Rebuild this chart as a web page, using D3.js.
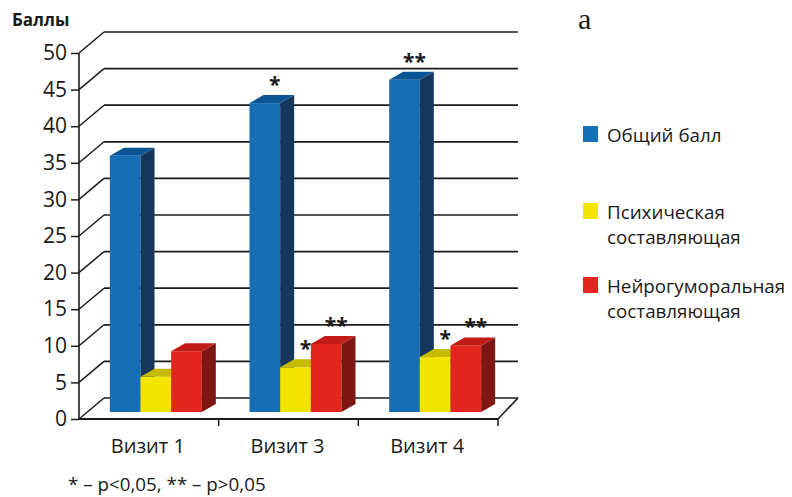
<!DOCTYPE html>
<html>
<head>
<meta charset="utf-8">
<script src="https://cdn.jsdelivr.net/npm/d3@7/dist/d3.min.js"></script>
<style>
  html, body { margin: 0; padding: 0; background: #fff; }
  svg { display: block; }
  text { font-family: "Open Sans", "Noto Sans", sans-serif; fill: #1a1a1a; }
</style>
</head>
<body>
<svg id="chart" width="792" height="497"></svg>
<script>
// Visits and score components
const visits = ["Визит 1", "Визит 3", "Визит 4"];
const seriesNames = ["Общий балл", "Психическая составляющая", "Нейрогуморальная составляющая"];
const legendLines = [["Общий балл"], ["Психическая", "составляющая"], ["Нейрогуморальная", "составляющая"]];
const totalScore = [35, 42.2, 45.4];
const psychicScore = [4.8, 6.1, 7.5];
const neuroScore = [8.3, 9.3, 9.1];
const totalSig = ["", "*", "**"];
const psychicSig = ["", "*", "*"];
const neuroSig = ["", "**", "**"];
const yTicks = [0, 5, 10, 15, 20, 25, 30, 35, 40, 45, 50];
const footnote = "* – p<0,05, ** – p>0,05";

const seriesValues = [totalScore, psychicScore, neuroScore];
const seriesSig = [totalSig, psychicSig, neuroSig];
const palette = [
  { front: "#166fb5", side: "#15375c", top: "#0b5595" },
  { front: "#f2e600", side: "#a89d00", top: "#c6bb00" },
  { front: "#e32520", side: "#7e1611", top: "#c11b18" }
];

const svg = d3.select("#chart");

// Front plane of the 3D box and the depth offsets of the back wall
const frontLeft = 79, frontRight = 498;
const backLeft = 104, backRight = 518;
const depthY = -21;

const y = d3.scaleLinear().domain([0, 50]).range([419, 53]);
const x0 = d3.scaleBand().domain(visits).range([frontLeft, frontRight]);

// Bars stand inside the box, a little behind the front plane
const barShiftX = 7, barShiftY = -7;
const groupWidth = 92;
const x1 = d3.scaleBand().domain(d3.range(seriesNames.length)).range([0, groupWidth]);
const barDepthX = 14, barDepthY = -8;

const gridColor = "#1c1c1c";

// Back wall grid lines
svg.append("g").selectAll("line.back")
  .data(yTicks)
  .join("line")
  .attr("x1", backLeft).attr("x2", backRight)
  .attr("y1", d => y(d) + depthY).attr("y2", d => y(d) + depthY)
  .attr("stroke", gridColor).attr("stroke-width", 1.7);

// Left wall diagonals
svg.append("g").selectAll("line.side")
  .data(yTicks)
  .join("line")
  .attr("x1", frontLeft).attr("y1", d => y(d))
  .attr("x2", backLeft).attr("y2", d => y(d) + depthY)
  .attr("stroke", gridColor).attr("stroke-width", 1.5);

// Floor right edge
svg.append("line")
  .attr("x1", frontRight).attr("y1", y(0))
  .attr("x2", backRight).attr("y2", y(0) + depthY)
  .attr("stroke", gridColor).attr("stroke-width", 1.6);

// Bars
const barsG = svg.append("g");
visits.forEach((v, i) => {
  const gx = x0(v) + (x0.bandwidth() - groupWidth) / 2 + barShiftX;
  seriesNames.forEach((s, j) => {
    const val = seriesValues[j][i];
    const bx = gx + x1(j);
    const bw = x1.bandwidth();
    const yb = y(0) + barShiftY;
    const yt = y(val) + barShiftY;
    const c = palette[j];
    const g = barsG.append("g");
    g.append("rect").attr("x", bx).attr("y", yt).attr("width", bw).attr("height", yb - yt).attr("fill", c.front);
    g.append("polygon")
      .attr("points", [[bx + bw, yt], [bx + bw + barDepthX, yt + barDepthY], [bx + bw + barDepthX, yb + barDepthY], [bx + bw, yb]].join(" "))
      .attr("fill", c.side);
    g.append("polygon")
      .attr("points", [[bx, yt], [bx + bw, yt], [bx + bw + barDepthX, yt + barDepthY], [bx + barDepthX, yt + barDepthY]].join(" "))
      .attr("fill", c.top);
    const sig = seriesSig[j][i];
    if (sig) {
      g.append("text")
        .attr("x", bx + bw / 2 + barDepthX / 2 + 3)
        .attr("y", yt + barDepthY - 3)
        .attr("text-anchor", "middle")
        .attr("font-size", 21)
        .attr("font-weight", 700)
        .text(sig);
    }
  });
});

// Front axes
svg.append("line")
  .attr("x1", frontLeft).attr("x2", frontLeft)
  .attr("y1", y(50)).attr("y2", y(0) + 1)
  .attr("stroke", gridColor).attr("stroke-width", 1.6);
svg.append("line")
  .attr("x1", frontLeft - 1).attr("x2", frontRight)
  .attr("y1", y(0)).attr("y2", y(0))
  .attr("stroke", gridColor).attr("stroke-width", 2);

const yAxis = d3.axisLeft(y).tickValues(yTicks).tickSize(8).tickPadding(4);
const yg = svg.append("g").attr("transform", `translate(${frontLeft},0)`).call(yAxis);
yg.select(".domain").remove();
yg.selectAll(".tick line").attr("stroke", gridColor).attr("stroke-width", 1.5);
yg.selectAll(".tick text").attr("font-size", 21).attr("fill", "#1a1a1a")
  .attr("font-family", "'Open Sans', sans-serif");

// Category ticks on the front floor edge
svg.append("g").selectAll("line.xt")
  .data(visits)
  .join("line")
  .attr("x1", d => x0(d) + x0.bandwidth()).attr("x2", d => x0(d) + x0.bandwidth())
  .attr("y1", y(0)).attr("y2", y(0) + 7)
  .attr("stroke", gridColor).attr("stroke-width", 1.5);

svg.append("g").selectAll("text.xl")
  .data(visits)
  .join("text")
  .attr("x", d => x0(d) + x0.bandwidth() / 2 - 1)
  .attr("y", 453)
  .attr("text-anchor", "middle")
  .attr("font-size", 20)
  .text(d => d);

// Axis title
svg.append("text")
  .attr("x", 12).attr("y", 26)
  .attr("font-size", 17).attr("font-weight", 700)
  .text("Баллы");

// Panel letter
svg.append("text")
  .attr("x", 578).attr("y", 29)
  .style("font-family", "'Liberation Serif', 'Times New Roman', serif")
  .attr("font-size", 30)
  .text("а");

// Legend
const legendTops = [126, 203, 277];
const legend = svg.append("g");
seriesNames.forEach((s, j) => {
  legend.append("rect")
    .attr("x", 583).attr("y", legendTops[j])
    .attr("width", 15).attr("height", 16)
    .attr("fill", palette[j].front);
  legend.append("text")
    .attr("x", 607).attr("y", legendTops[j] + 16)
    .attr("font-size", 18.8)
    .selectAll("tspan")
    .data(legendLines[j])
    .join("tspan")
    .attr("x", 607)
    .attr("dy", (d, k) => k === 0 ? 0 : 24.5)
    .text(d => d);
});

// Significance footnote
svg.append("text")
  .attr("x", 68).attr("y", 491)
  .attr("font-size", 18.8)
  .text(footnote);
</script>
</body>
</html>
